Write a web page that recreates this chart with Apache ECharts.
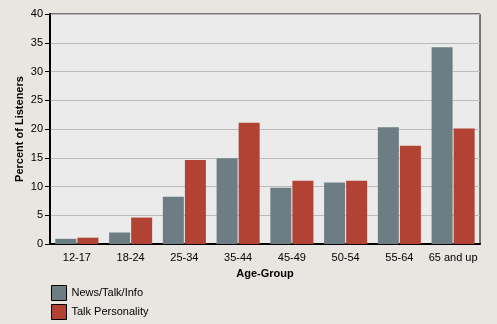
<!DOCTYPE html>
<html>
<head>
<meta charset="utf-8">
<script src="https://cdn.jsdelivr.net/npm/echarts@6/dist/echarts.min.js"></script>
<style>
html,body{margin:0;padding:0;background:#e9e6e1;}
#c{width:497px;height:324px;}
</style>
</head>
<body>
<div id="c"></div>
<script>
const categories = ['12-17','18-24','25-34','35-44','45-49','50-54','55-64','65 and up'];
const newsTalkInfo = [0.9, 2.0, 8.2, 14.9, 9.8, 10.7, 20.3, 34.2];
const talkPersonality = [1.1, 4.6, 14.6, 21.1, 11.0, 11.0, 17.1, 20.1];
const seriesNames = ['News/Talk/Info', 'Talk Personality'];
const yTicks = [0, 5, 10, 15, 20, 25, 30, 35, 40];

const font = 'Arial, "Liberation Sans", sans-serif';
const chart = echarts.init(document.getElementById('c'));
chart.setOption({
  backgroundColor: '#e9e6e1',
  animation: false,
  textStyle: { fontFamily: font },
  grid: {
    left: 50, top: 14, width: 430, height: 230,
    show: true, backgroundColor: '#ebebeb', borderColor: '#000', borderWidth: 1
  },
  legend: {
    orient: 'vertical', left: 51, top: 285, itemGap: 3, padding: 0,
    itemWidth: 15, itemHeight: 15, icon: 'rect',
    itemStyle: { borderColor: '#000', borderWidth: 1 },
    textStyle: { fontSize: 11, color: '#000', fontFamily: font },
    data: seriesNames
  },
  xAxis: {
    type: 'category', data: categories,
    name: 'Age-Group', nameLocation: 'middle', nameGap: 24,
    nameTextStyle: { fontSize: 11, fontWeight: 'bold', color: '#000', fontFamily: font },
    axisLine: { lineStyle: { color: '#000', width: 2 } },
    axisTick: { alignWithLabel: true, length: 5, lineStyle: { color: '#000', width: 1 } },
    axisLabel: { interval: 0, fontSize: 11, color: '#000', margin: 8, fontFamily: font }
  },
  yAxis: {
    type: 'value', min: yTicks[0], max: yTicks[yTicks.length-1], interval: 5,
    name: 'Percent of Listeners', nameLocation: 'middle', nameGap: 25, nameMoveOverlap: false,
    nameTextStyle: { fontSize: 11, fontWeight: 'bold', color: '#000', fontFamily: font },
    axisLine: { show: true, lineStyle: { color: '#000', width: 2 } },
    axisTick: { show: true, length: 5, lineStyle: { color: '#000', width: 1 } },
    axisLabel: { fontSize: 11, color: '#000', margin: 7, fontFamily: font },
    splitLine: { lineStyle: { color: '#bbbbbb', width: 1 } }
  },
  series: [
    { name: seriesNames[0], type: 'bar', data: newsTalkInfo, barWidth: 21, barGap: '5%',
      itemStyle: { color: '#6c7e84' } },
    { name: seriesNames[1], type: 'bar', data: talkPersonality, barWidth: 21,
      itemStyle: { color: '#b24334' } }
  ]
});
</script>
</body>
</html>
